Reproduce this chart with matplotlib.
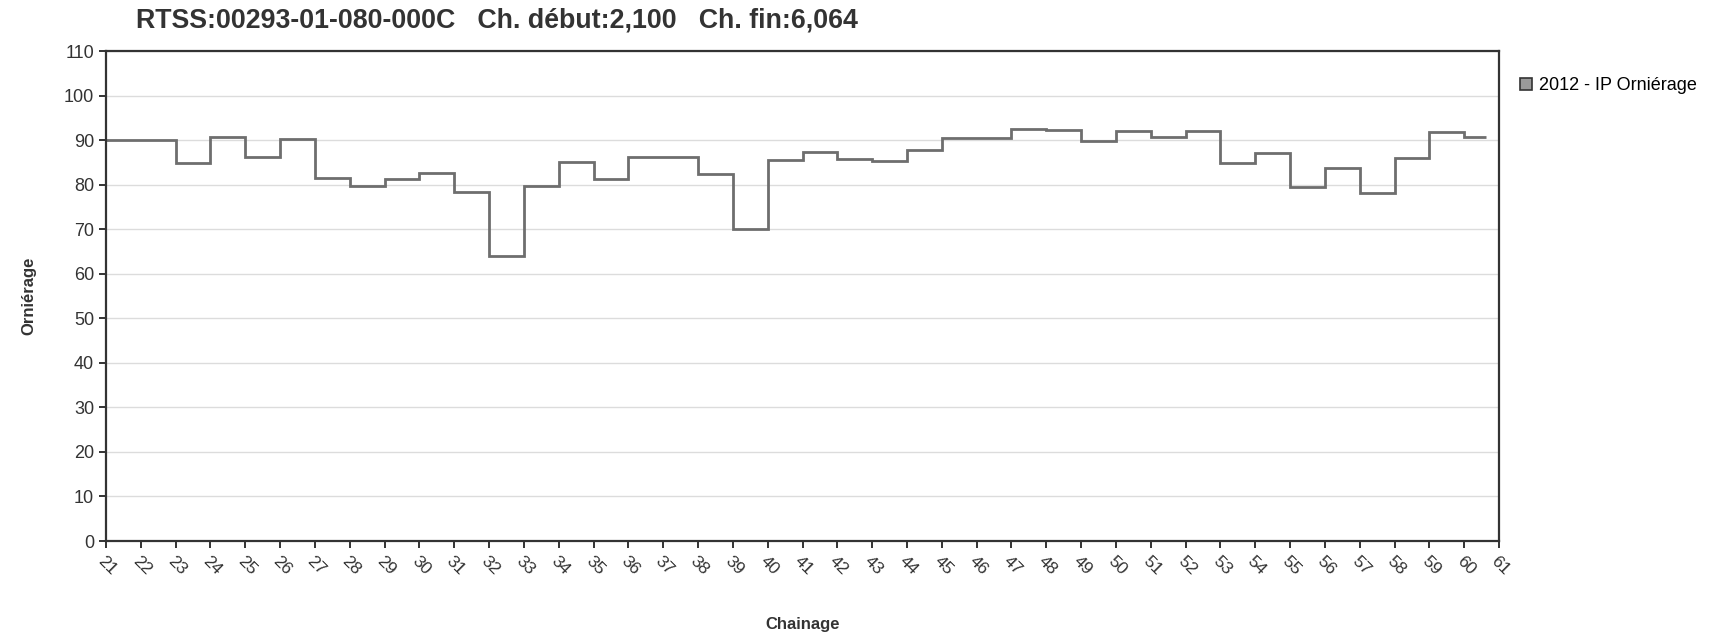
import matplotlib
matplotlib.use("Agg")
import matplotlib.pyplot as plt
from matplotlib.lines import Line2D

plt.rcParams['font.family'] = ['Liberation Sans', 'DejaVu Sans']

# step edges (chainage, hundreds of metres) and rut index per segment
edges = list(range(21, 61)) + [60.64]
values = [90.0, 90.0, 84.8, 90.8, 86.1, 90.3, 81.4, 79.6, 81.2, 82.7,
          78.3, 63.9, 79.8, 85.1, 81.3, 86.2, 86.1, 82.5, 70.1, 85.5,
          87.3, 85.7, 85.4, 87.8, 90.4, 90.4, 92.5, 92.3, 89.7, 92.1,
          90.7, 92.0, 84.8, 87.2, 79.4, 83.7, 78.1, 86.0, 91.9, 90.8]
xticks = list(range(21, 62))
yticks = list(range(0, 111, 10))
series_name = "2012 - IP Orniérage"
title = "RTSS:00293-01-080-000C   Ch. début:2,100   Ch. fin:6,064"

fig = plt.figure(figsize=(17.1, 6.41), dpi=100)
ax = fig.add_axes([0.062, 0.156, 0.8146, 0.7644])

ax.stairs(values, edges, baseline=None, color='#6e6e6e', linewidth=2.0)

ax.set_xlim(21, 61)
ax.set_ylim(0, 110)
ax.set_yticks(yticks)
ax.set_xticks(xticks)
ax.set_xticklabels([str(t) for t in xticks], rotation=-45, ha='left', va='top',
                   rotation_mode='anchor')
ax.yaxis.grid(True, color='#dcdcdc', linewidth=1.0)
ax.set_axisbelow(True)

for s in ax.spines.values():
    s.set_color('#333333')
    s.set_linewidth(1.6)
ax.tick_params(axis='both', colors='#333333', width=1.4, length=5,
               labelsize=13, labelcolor='#333333')
ax.tick_params(axis='x', labelsize=12.5, pad=4)

ax.set_ylabel("Orniérage", fontsize=12, fontweight='bold', color='#333333', labelpad=20)
fig.text(803 / 1710, 1 - 625 / 641, "Chainage", fontsize=12, fontweight='bold',
         color='#333333', ha='center', va='center')
fig.text(136 / 1710, 1 - 21 / 641, title, fontsize=19.3, fontweight='bold',
         color='#333333', ha='left', va='center')

handle = Line2D([], [], linestyle='none', marker='s', markersize=8,
                markerfacecolor='#9a9a9a', markeredgecolor='#333333', markeredgewidth=1.2)
fig.legend([handle], [series_name], loc='center left',
           bbox_to_anchor=(1512 / 1710, 1 - 86 / 641), frameon=False,
           fontsize=13, handlelength=0.8, handletextpad=0.3, borderaxespad=0)

fig.savefig('out.png', dpi=100)
